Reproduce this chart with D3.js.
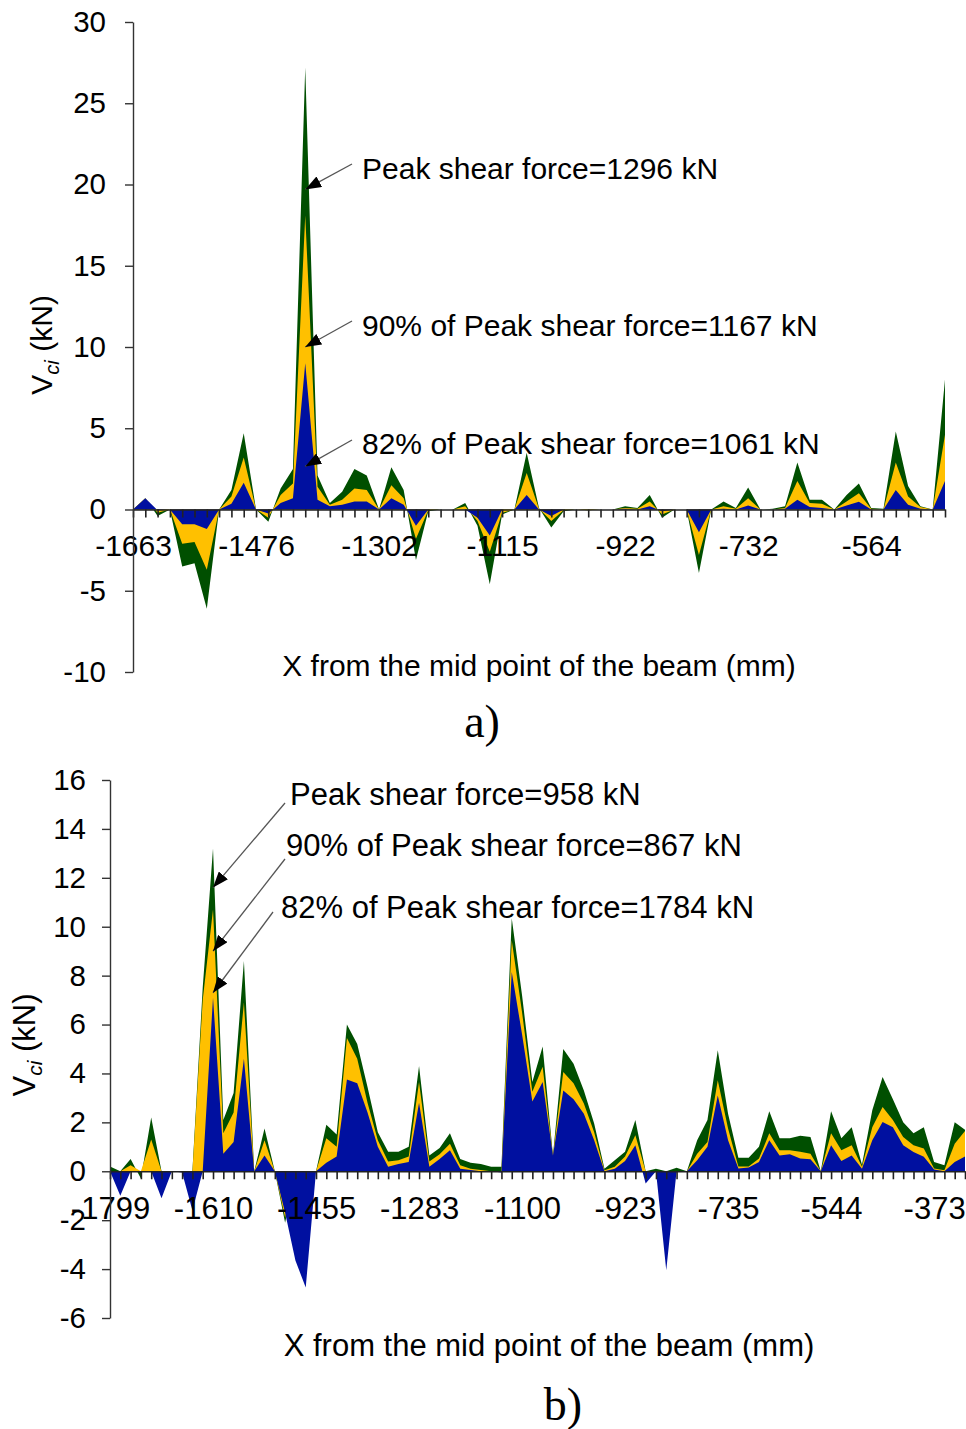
<!DOCTYPE html>
<html>
<head>
<meta charset="utf-8">
<script src="https://cdn.jsdelivr.net/npm/d3@7/dist/d3.min.js"></script>
<style>
  body { margin: 0; background: #fff; }
  svg text { font-family: "Liberation Sans", Arial, sans-serif; fill: #000; }
</style>
</head>
<body>
<svg id="chart" width="966" height="1429"></svg>
<script>
// ---------- Panel a) : Vci along the beam ----------
const tickLabelsA = ["-1663", "-1476", "-1302", "-1115", "-922", "-732", "-564"];
const yTicksA = [-10, -5, 0, 5, 10, 15, 20, 25, 30];

// Vci at the peak load (kN)
const peakA = [0, 0.7, -0.4, 0, -3.5, -3.3, -6.1, 0, 1.2, 4.7,
  0, -0.75, 1.3, 2.5, 27.2, 2.1, 0.4, 1.1, 2.5, 2.1,
  0, 2.6, 1.2, -3.1, -0.1, 0, 0, 0.4, -1.0, -4.6,
  -0.3, 0, 3.5, 0.1, -1.1, -0.1, 0, -0.05, 0, 0,
  0.2, 0.1, 0.9, -0.5, 0, 0, -3.9, 0, 0.5, 0.1,
  1.35, 0, 0.05, 0.2, 2.9, 0.6, 0.6, 0, 0.9, 1.6,
  0.1, 0.05, 4.8, 1.45, 0.2, 0, 8.0];
// Vci at 90% of the peak load
const p90A = [0, 0.7, -0.2, 0, -2.1, -2.0, -3.7, 0, 0.8, 3.2,
  0, -0.5, 0.9, 1.6, 18.1, 1.4, 0.3, 0.6, 1.3, 1.2,
  0, 1.5, 0.7, -1.8, -0.05, 0, 0, 0.2, -0.7, -2.6,
  -0.2, 0, 2.25, 0.05, -0.7, -0.05, 0, -0.05, 0, 0,
  0.1, 0.05, 0.5, -0.3, 0, 0, -2.8, 0, 0.2, 0.05,
  0.7, 0, 0, 0.1, 1.75, 0.4, 0.35, 0, 0.5, 1.0,
  0.05, 0, 2.9, 0.8, 0.15, 0, 4.6];
// Vci at 82% of the peak load
const p82A = [0, 0.7, -0.05, 0, -0.9, -0.9, -1.2, 0, 0.35, 1.65,
  0, -0.25, 0.4, 0.7, 9.0, 0.6, 0.2, 0.3, 0.5, 0.5,
  0, 0.7, 0.3, -1.0, 0, 0, 0, 0, -0.5, -1.6,
  0, 0, 0.9, 0, -0.4, 0, 0, 0, 0, 0,
  0.05, 0, 0.2, -0.1, 0, 0, -1.4, 0, 0.05, 0,
  0.25, 0, 0, 0.05, 0.6, 0.15, 0.1, 0, 0.25, 0.47,
  0, 0, 1.2, 0.3, 0.05, 0, 1.75];

const notesA = ["Peak shear force=1296 kN", "90% of Peak shear force=1167 kN", "82% of Peak shear force=1061 kN"];
const noteTipIndexA = 14;
const noteTipValueA = [19.7, 10.0, 2.65];

// ---------- Panel b) ----------
const tickLabelsB = ["-1799", "-1610", "-1455", "-1283", "-1100", "-923", "-735", "-544", "-373"];
const yTicksB = [-6, -4, -2, 0, 2, 4, 6, 8, 10, 12, 14, 16];

const peakB = [0.2, 0, 0.5, -0.3, 2.2, 0, 0, 0, 0, 7.5,
  13.2, 2.1, 3.2, 8.6, 0, 1.75, 0, -2.1, 0, 0,
  0, 1.9, 1.5, 6.0, 5.2, 3.45, 1.6, 0.8, 0.8, 1.0,
  4.3, 0.65, 0.95, 1.55, 0.5, 0.35, 0.3, 0.18, 0.18, 10.35,
  7.2, 3.65, 5.1, 0.65, 5.0, 4.4, 3.3, 1.95, 0.1, 0.45,
  0.8, 2.1, 0, 0.1, 0, 0.14, 0, 1.27, 2.1, 4.95,
  2.35, 0.55, 0.55, 1.0, 2.45, 1.35, 1.35, 1.45, 1.4, 0,
  2.45, 1.35, 1.8, 0.27, 2.5, 3.85, 2.95, 2.0, 1.55, 1.8,
  0.38, 0.25, 2.0, 1.7];
const p90B = [0, 0, 0.25, 0, 1.3, 0, 0, 0, 0, 7.0,
  10.7, 1.55, 2.4, 6.9, 0, 1.27, 0, -1.9, 0, 0,
  0, 1.35, 1.0, 5.45, 4.6, 2.8, 1.27, 0.4, 0.45, 0.6,
  3.65, 0.4, 0.7, 1.13, 0.25, 0.1, 0.05, 0, 0, 9.45,
  6.5, 3.25, 4.27, 0.65, 4.06, 3.6, 2.77, 1.6, 0.04, 0.18,
  0.6, 1.47, 0, 0, 0, 0, 0, 0.72, 1.2, 3.72,
  1.75, 0.2, 0.2, 0.52, 1.55, 0.86, 0.86, 0.8, 0.72, 0,
  1.55, 0.86, 1.06, 0.18, 1.8, 2.63, 2.1, 1.4, 1.06, 0.93,
  0.11, 0.04, 1.13, 1.65];
const p82B = [0, -1.0, 0, 0, 0, -1.1, 0, -0.05, -1.6, 0,
  7.1, 0.72, 1.2, 4.6, 0, 0.65, 0, -1.7, -3.65, -4.75,
  0, 0.35, 0.6, 3.75, 3.6, 2.4, 1.0, 0.18, 0.3, 0.38,
  2.8, 0.18, 0.5, 0.86, 0.1, 0.05, 0, 0, -0.05, 8.15,
  5.6, 2.85, 3.65, 0.65, 3.3, 2.95, 2.35, 1.27, 0, 0.1,
  0.42, 1.06, -0.5, 0, -4.05, 0, 0, 0.45, 1.0, 3.1,
  1.27, 0.11, 0.15, 0.38, 1.27, 0.65, 0.7, 0.52, 0.49, 0,
  1.06, 0.42, 0.65, 0.1, 1.27, 2.02, 1.8, 1.06, 0.79, 0.59,
  0.07, 0, 0.38, 0.6];

const notesB = ["Peak shear force=958 kN", "90% of Peak shear force=867 kN", "82% of Peak shear force=1784 kN"];
const noteTipIndexB = 10;
const noteTipValueB = [11.6, 9.0, 7.3];

const seriesColors = ["#004f00", "#ffc000", "#0010a0"];
const axisTitleX = "X from the mid point of the beam (mm)";

const svg = d3.select("#chart");

svg.append("defs").append("marker")
  .attr("id", "arrowhead")
  .attr("viewBox", "0 -6 16 12")
  .attr("refX", 16).attr("refY", 0)
  .attr("markerWidth", 16).attr("markerHeight", 12)
  .attr("markerUnits", "userSpaceOnUse")
  .attr("orient", "auto")
  .append("path").attr("d", "M0,-6L16,0L0,6Z").attr("fill", "#000");

function drawPanel(p) {
  const n = p.series[0].length;
  const g = svg.append("g");
  const x = d3.scalePoint().domain(d3.range(n)).range(p.xRange);
  const y = d3.scaleLinear().domain(p.yDomain).range(p.yRange);

  // overlapping areas: peak load at the back, 82% in front
  const area = d3.area()
    .x((d, i) => x(i))
    .y0(y(0))
    .y1(d => y(d));
  p.series.forEach((s, k) => {
    g.append("path").datum(s)
      .attr("d", area)
      .attr("fill", seriesColors[k]);
  });

  // x axis through zero
  const xAxis = d3.axisBottom(x)
    .tickValues(d3.range(n))
    .tickSize(8).tickSizeOuter(0)
    .tickPadding(p.xPad)
    .tickFormat(i => (i % 10 === 0 && p.xLabels[i / 10] !== undefined) ? p.xLabels[i / 10] : "");
  const gx = g.append("g").attr("transform", `translate(0,${y(0)})`).call(xAxis);
  gx.selectAll("text").attr("font-size", p.font).attr("font-family", "Liberation Sans, Arial, sans-serif").attr("fill", "#000");
  gx.selectAll("line").attr("stroke", "#222").attr("stroke-width", 1.6);
  gx.select(".domain").attr("stroke", "#222").attr("stroke-width", 1.6);

  // y axis (plain hyphen for negative values)
  const yAxis = d3.axisLeft(y).tickValues(p.yTicks).tickSize(8).tickSizeOuter(0)
    .tickPadding(p.yPad).tickFormat(d => String(d));
  const gy = g.append("g").attr("transform", `translate(${p.xRange[0]},0)`).call(yAxis);
  gy.selectAll("text").attr("font-size", p.yFont).attr("font-family", "Liberation Sans, Arial, sans-serif").attr("fill", "#000");
  gy.selectAll("line").attr("stroke", "#333").attr("stroke-width", 1.4);
  gy.select(".domain").attr("stroke", "#333").attr("stroke-width", 1.4);

  // y axis title: V with subscript ci
  const yt = g.append("text")
    .attr("transform", `translate(${p.yTitle[0]},${p.yTitle[1]}) rotate(-90)`)
    .attr("text-anchor", "middle")
    .attr("font-size", p.font);
  yt.append("tspan").text("V");
  yt.append("tspan").attr("font-style", "italic").attr("font-size", p.font * 0.68).attr("dy", p.font * 0.22).text("ci");
  yt.append("tspan").attr("dy", -p.font * 0.22).text(" (kN)");

  // x axis title
  g.append("text")
    .attr("x", p.xTitle[0]).attr("y", p.xTitle[1])
    .attr("text-anchor", "middle")
    .attr("font-size", p.font)
    .text(axisTitleX);

  // panel letter
  g.append("text")
    .attr("x", p.letterPos[0]).attr("y", p.letterPos[1])
    .attr("text-anchor", "middle")
    .attr("font-size", 46)
    .style("font-family", "'Liberation Serif', 'Times New Roman', serif")
    .text(p.letter);

  // annotation arrows pointing at the peak
  p.notes.forEach((t, k) => {
    const lay = p.noteLayout[k];
    const tx = x(p.tipIndex), ty = y(p.tipValues[k]);
    g.append("line")
      .attr("x1", lay.sx).attr("y1", lay.sy)
      .attr("x2", tx).attr("y2", ty)
      .attr("stroke", "#555").attr("stroke-width", 1.3)
      .attr("marker-end", "url(#arrowhead)");
    g.append("text")
      .attr("x", lay.tx).attr("y", lay.ty)
      .attr("font-size", p.font)
      .text(t);
  });
}

drawPanel({
  series: [peakA, p90A, p82A],
  xRange: [133, 945], yRange: [672, 22], yDomain: [-10, 30],
  yTicks: yTicksA, xLabels: tickLabelsA,
  font: 30, yFont: 29.5, xPad: 17, yPad: 19,
  yTitle: [52, 345], xTitle: [539, 676],
  letter: "a)", letterPos: [482, 737],
  notes: notesA, tipIndex: noteTipIndexA, tipValues: noteTipValueA,
  noteLayout: [
    { sx: 352, sy: 164, tx: 362, ty: 179 },
    { sx: 352, sy: 321, tx: 362, ty: 336 },
    { sx: 352, sy: 440, tx: 362, ty: 454 }
  ]
});

drawPanel({
  series: [peakB, p90B, p82B],
  xRange: [110, 965], yRange: [1318, 780], yDomain: [-6, 16],
  yTicks: yTicksB, xLabels: tickLabelsB,
  font: 31, yFont: 29.5, xPad: 18, yPad: 16,
  yTitle: [35, 1045], xTitle: [549, 1356],
  letter: "b)", letterPos: [563, 1420],
  notes: notesB, tipIndex: noteTipIndexB, tipValues: noteTipValueB,
  noteLayout: [
    { sx: 285, sy: 803, tx: 290, ty: 805 },
    { sx: 285, sy: 859, tx: 286, ty: 856 },
    { sx: 273, sy: 912, tx: 281, ty: 918 }
  ]
});
</script>
</body>
</html>
